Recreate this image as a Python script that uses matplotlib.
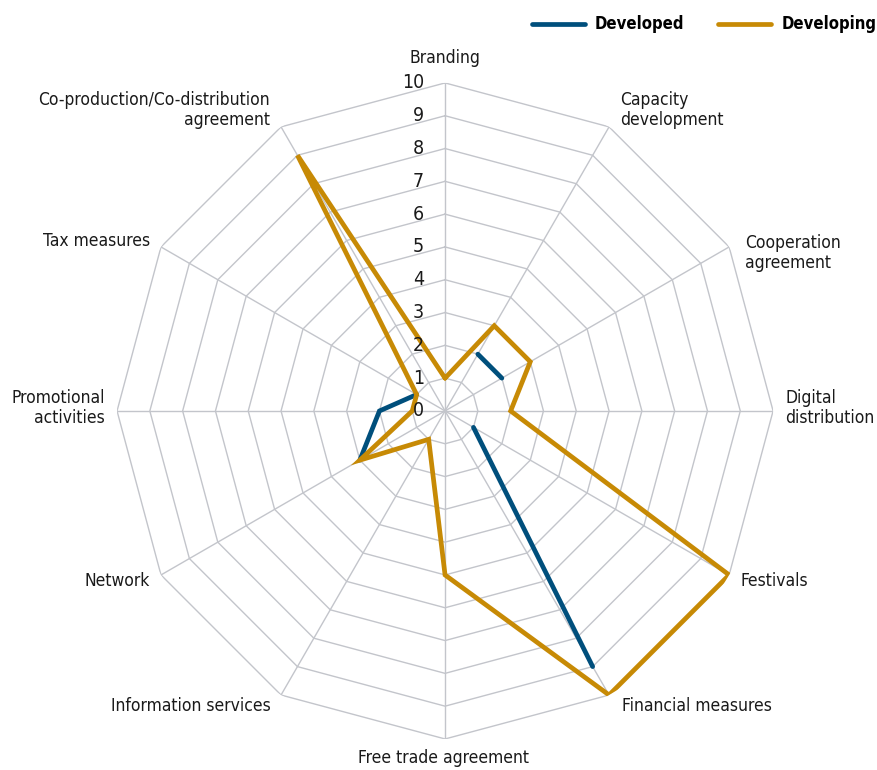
import numpy as np
import matplotlib
matplotlib.use("Agg")
import matplotlib.pyplot as plt
from matplotlib.lines import Line2D

categories = ["Branding", "Capacity\ndevelopment", "Cooperation\nagreement",
              "Digital\ndistribution", "Festivals", "Financial measures",
              "Free trade agreement", "Information services", "Network",
              "Promotional\nactivities", "Tax measures",
              "Co-production/Co-distribution\nagreement"]
developed = [np.nan, 2, 2, np.nan, 1, 9, np.nan, np.nan, 3, 2, 1, np.nan]
developing = [1, 3, 3, 2, 10, 10, 5, 1, 3, 1, 1, 9]
rticks = list(range(0, 11))

BLUE = "#004f7c"
ORANGE = "#c78a05"
GRID = "#c3c5cb"

FONT = ["DejaVu Sans", "Liberation Sans"]
plt.rcParams["font.family"] = FONT
plt.rcParams["font.stretch"] = "condensed"

fig = plt.figure(figsize=(8.78, 7.70), dpi=100)
ax = fig.add_axes([0.1333, 0.0403, 0.7472, 0.852], projection="polar")
ax.set_theta_zero_location("N")
ax.set_theta_direction(-1)
ax.set_ylim(0, 10)
ax.set_xticks([])
ax.set_yticks([])
ax.grid(False)
ax.spines["polar"].set_visible(False)
ax.patch.set_alpha(0)

n = len(categories)
angles = np.arange(n) * 2 * np.pi / n
closed = np.append(angles, angles[0])

for r in rticks[1:]:
    ax.plot(closed, [r] * (n + 1), color=GRID, lw=1.0, zorder=1)
for a in angles:
    ax.plot([a, a], [0, 10], color=GRID, lw=1.0, zorder=1)

ax.plot(closed, developed + [developed[0]], color=BLUE, lw=3.4,
        solid_capstyle="round", solid_joinstyle="miter", zorder=3)
ax.plot(closed, developing + [developing[0]], color=ORANGE, lw=3.4,
        solid_capstyle="round", solid_joinstyle="miter", zorder=4)

for r in rticks:
    ax.annotate(str(r), xy=(0, r), xytext=(-21, 0), textcoords="offset pixels",
                ha="right", va="center", fontsize=14, color="#1a1a1a", zorder=5)

offsets = [(0, 25, "center"), (11, 17, "left"), (16, -6, "left"), (12, 3, "left"),
           (11, -6, "left"), (13, -11, "left"), (-2, -19, "center"),
           (-10, -11, "right"), (-11, -6, "right"), (-12, 3, "right"),
           (-11, 6, "right"), (-11, 17, "right")]
for a, lab, (dx, dy, ha) in zip(angles, categories, offsets):
    ax.annotate(lab, xy=(a, 10), xytext=(dx, dy), textcoords="offset pixels",
                ha=ha, va="center", fontsize=12.5, color="#1a1a1a",
                multialignment=ha, linespacing=1.15, annotation_clip=False)

handles = [Line2D([], [], color=BLUE, lw=3.4, solid_capstyle="round"),
           Line2D([], [], color=ORANGE, lw=3.4, solid_capstyle="round")]
fig.legend(handles, ["Developed", "Developing"], loc="upper right",
           bbox_to_anchor=(0.998, 0.98), ncol=2, frameon=False,
           borderpad=0, borderaxespad=0,
           prop={"family": FONT, "weight": "bold", "size": 12, "stretch": "condensed"},
           handlelength=3.2, columnspacing=2.0, handletextpad=0.6)

fig.savefig("out.png", dpi=100)
